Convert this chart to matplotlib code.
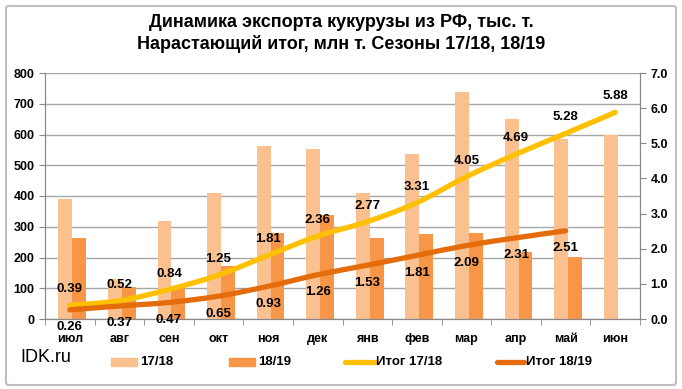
import numpy as np
import matplotlib.pyplot as plt
from matplotlib.path import Path
from matplotlib.patches import PathPatch, Rectangle, FancyBboxPatch
from matplotlib.lines import Line2D

plt.rcParams['font.family'] = ['Liberation Sans Narrow', 'Liberation Sans', 'DejaVu Sans']

months = ['июл', 'авг', 'сен', 'окт', 'ноя', 'дек', 'янв', 'фев', 'мар', 'апр', 'май', 'июн']
exp_1718 = [390, 130, 320, 410, 562, 553, 410, 537, 738, 650, 585, 598]
exp_1819 = [263, 105, 98, 172, 280, 338, 264, 276, 280, 218, 202]
cum_1718 = [0.39, 0.52, 0.84, 1.25, 1.81, 2.36, 2.77, 3.31, 4.05, 4.69, 5.28, 5.88]
cum_1819 = [0.26, 0.37, 0.47, 0.65, 0.93, 1.26, 1.53, 1.81, 2.09, 2.31, 2.51]
series_names = ['17/18', '18/19', 'Итог 17/18', 'Итог 18/19']

c_bar1 = '#FAC090'
c_bar2 = '#F79646'
c_line1 = '#FFC000'
c_line2 = '#E46C0A'


def smooth_path(xs, ys):
    # bezier segments like Excel's smoothed line
    pts = np.column_stack([xs, ys]).astype(float)
    n = len(pts)
    verts = [pts[0]]
    codes = [Path.MOVETO]
    for i in range(n - 1):
        p0 = pts[i - 1] if i > 0 else pts[i]
        p1 = pts[i]
        p2 = pts[i + 1]
        p3 = pts[i + 2] if i + 2 < n else pts[i + 1]
        verts += [p1 + (p2 - p0) / 6, p2 - (p3 - p1) / 6, p2]
        codes += [Path.CURVE4] * 3
    return Path(verts, codes)


W, H = 682, 389
fig = plt.figure(figsize=(W / 100, H / 100), dpi=100)
ax = fig.add_axes([45 / W, 1 - 319 / H, (640 - 45) / W, (319 - 73) / H])
ax2 = ax.twinx()

x = np.arange(len(months))
w = 0.28
ax.bar(x[:len(exp_1718)] - w / 2 + 0.05, exp_1718, w, color=c_bar1, zorder=2)
ax.bar(x[:len(exp_1819)] + w / 2 + 0.05, exp_1819, w, color=c_bar2, zorder=2)

ax.set_xlim(-0.5, len(months) - 0.5)
ax.set_ylim(0, 800)
ax.set_yticks(range(0, 801, 100))
ax.yaxis.grid(True, color='#A6A6A6', lw=1)
ax.set_axisbelow(True)
ax.set_xticks(x)
ax.set_xticklabels(months)
ax.set_xticks(np.arange(-0.5, len(months), 1), minor=True)
ax.tick_params(axis='x', which='major', length=0, pad=10)
ax.tick_params(axis='x', which='minor', length=4, color='#888888')
ax.tick_params(axis='y', length=4, color='#888888')
for t in ax.get_xticklabels() + ax.get_yticklabels():
    t.set_fontsize(9)
    t.set_fontweight('bold')

ax2.set_ylim(0, 7)
ax2.set_yticks(np.arange(0, 7.01, 1))
ax2.set_yticklabels([f'{v:.1f}' for v in np.arange(0, 7.01, 1)])
ax2.tick_params(axis='y', length=4, color='#888888')
for t in ax2.get_yticklabels():
    t.set_fontsize(9)
    t.set_fontweight('bold')

for a in (ax, ax2):
    a.spines['top'].set_visible(False)
    for s in ('left', 'right', 'bottom'):
        a.spines[s].set_color('#888888')

ax2.add_patch(PathPatch(smooth_path(x[:len(cum_1718)], cum_1718), fill=False,
                        edgecolor=c_line1, lw=3.8, capstyle='round', zorder=3))
ax2.add_patch(PathPatch(smooth_path(x[:len(cum_1819)], cum_1819), fill=False,
                        edgecolor=c_line2, lw=3.8, capstyle='round', zorder=3))

for xi, v in zip(x, cum_1718):
    ax2.annotate(f'{v:.2f}', (xi, v), xytext=(0, 11.5), textcoords='offset points',
                 ha='center', va='center', fontsize=9.5, fontweight='bold', zorder=4)
for xi, v in zip(x, cum_1819):
    ax2.annotate(f'{v:.2f}', (xi, v), xytext=(0, -12.5), textcoords='offset points',
                 ha='center', va='center', fontsize=9.5, fontweight='bold', zorder=4,
                 annotation_clip=False)

fig.text(0.5, 1 - 33.5 / H,
         'Динамика экспорта кукурузы из РФ, тыс. т.\nНарастающий итог, млн т. Сезоны 17/18, 18/19',
         ha='center', va='center', fontsize=13, fontweight='bold', linespacing=1.25)

# legend row
ly = 1 - 362 / H
fig.text(20 / W, 1 - 357 / H, 'IDK.ru', fontsize=13, ha='left', va='center',
         family=['Liberation Sans', 'DejaVu Sans'])
fig.patches.append(Rectangle((111 / W, ly - 4 / H), 26 / W, 8 / H, transform=fig.transFigure,
                             color=c_bar1))
fig.patches.append(Rectangle((229 / W, ly - 4 / H), 26 / W, 8 / H, transform=fig.transFigure,
                             color=c_bar2))
fig.lines.append(Line2D([345 / W, 375 / W], [ly, ly], transform=fig.transFigure,
                        color=c_line1, lw=3.8, solid_capstyle='round'))
fig.lines.append(Line2D([497 / W, 524 / W], [ly, ly], transform=fig.transFigure,
                        color=c_line2, lw=3.8, solid_capstyle='round'))
for tx, name in zip([140, 258, 376, 526], series_names):
    fig.text(tx / W, ly, name, fontsize=9.5, fontweight='bold', ha='left', va='center')

fig.patches.append(FancyBboxPatch((6 / W, 4 / H), 670 / W, 379 / H, transform=fig.transFigure,
                                  boxstyle='round,pad=0,rounding_size=0.005',
                                  fill=False, edgecolor='#BFBFBF', lw=1.5))

fig.savefig('out.png', dpi=100)
